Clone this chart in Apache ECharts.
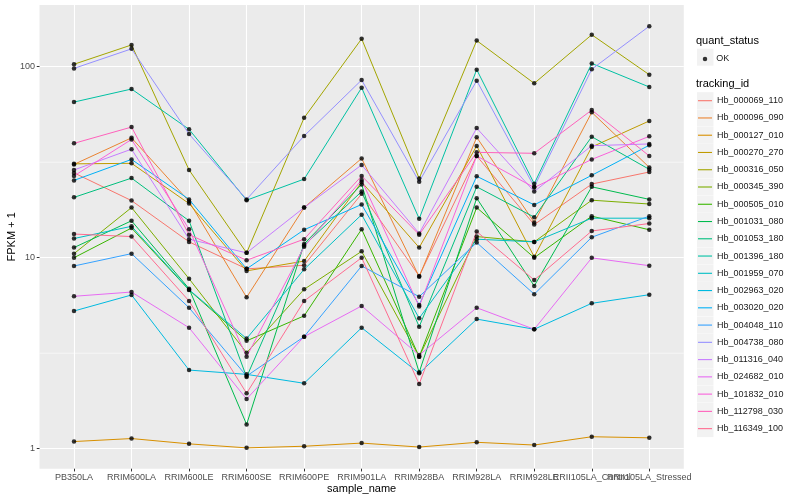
<!DOCTYPE html>
<html>
<head>
<meta charset="utf-8">
<script src="https://cdn.jsdelivr.net/npm/echarts@6/dist/echarts.min.js"></script>
<style>
html,body{margin:0;padding:0;background:#fff;}
#chart{width:800px;height:500px;}
</style>
</head>
<body>
<div id="chart"></div>
<script>
// ---- data ----
const categories = ['PB350LA','RRIM600LA','RRIM600LE','RRIM600SE','RRIM600PE','RRIM901LA','RRIM928BA','RRIM928LA','RRIM928LE','RRII105LA_Control','RRII105LA_Stressed'];
const trackingIds = ['Hb_000069_110','Hb_000096_090','Hb_000127_010','Hb_000270_270','Hb_000316_050','Hb_000345_390','Hb_000505_010','Hb_001031_080','Hb_001053_180','Hb_001396_180','Hb_001959_070','Hb_002963_020','Hb_003020_020','Hb_004048_110','Hb_004738_080','Hb_011316_040','Hb_024682_010','Hb_101832_010','Hb_112798_030','Hb_116349_100'];
const Hb_000069_110 = [27.8, 19.9, 12.1, 8.74, 9.13, 21.6, 8.02, 34.1, 14.9, 24.3, 28.1];
const Hb_000096_090 = [30.8, 42.4, 19.7, 6.20, 18.3, 33.1, 7.95, 42.7, 15.3, 57.7, 29.7];
const Hb_000127_010 = [1.09, 1.13, 1.06, 1.01, 1.03, 1.07, 1.02, 1.08, 1.045, 1.155, 1.14];
const Hb_000270_270 = [31.0, 31.2, 19.2, 8.53, 9.6, 24.9, 11.3, 38.5, 10.1, 38.0, 52.0];
const Hb_000316_050 = [103, 130, 28.8, 10.6, 54, 140, 26, 137, 81.8, 147, 90.8];
const Hb_000345_390 = [10.5, 18.3, 7.76, 3.18, 6.83, 10.8, 3.03, 12.9, 12.1, 20.0, 19.1];
const Hb_000505_010 = [10.0, 14.3, 6.77, 3.67, 4.96, 14.1, 3.03, 18.3, 10.0, 16.5, 14.0];
const Hb_001031_080 = [11.3, 15.6, 6.88, 1.34, 11.8, 24.2, 2.51, 20.5, 7.11, 23.5, 20.2];
const Hb_001053_180 = [20.7, 26.1, 15.6, 2.37, 11.6, 22.2, 4.35, 23.5, 16.3, 43.0, 29.0];
const Hb_001396_180 = [65.3, 76.4, 47.0, 20.0, 25.8, 77.6, 16.0, 96.5, 24.4, 104, 78.3];
const Hb_001959_070 = [12.6, 14.6, 6.8, 3.77, 8.69, 16.8, 4.82, 12.5, 12.1, 16.1, 16.1];
const Hb_002963_020 = [5.26, 6.38, 2.58, 2.45, 2.20, 4.30, 2.48, 4.77, 4.22, 5.77, 6.40];
const Hb_003020_020 = [25.4, 32.7, 20.2, 8.74, 14.0, 19.0, 5.65, 26.7, 18.9, 27.0, 38.8];
const Hb_004048_110 = [9.05, 10.5, 5.47, 2.40, 3.86, 9.05, 6.25, 12.0, 6.44, 12.8, 16.5];
const Hb_004738_080 = [98, 124, 44.4, 20.2, 43.4, 85.2, 25.0, 84.5, 23.5, 97, 163];
const Hb_011316_040 = [28.8, 37.0, 12.5, 10.6, 18.3, 30.6, 13.4, 47.7, 22.2, 38.6, 39.4];
const Hb_024682_010 = [6.28, 6.61, 4.30, 1.82, 3.86, 5.59, 3.09, 5.47, 4.22, 9.98, 9.08];
const Hb_101832_010 = [26.8, 41.6, 14.1, 3.03, 11.4, 25.5, 5.55, 34.1, 23.3, 32.7, 43.2];
const Hb_112798_030 = [39.7, 48.3, 13.2, 9.70, 12.5, 26.8, 13.2, 35.6, 35.2, 59.3, 34.1];
const Hb_116349_100 = [13.3, 12.9, 5.93, 1.95, 5.93, 10.0, 2.18, 13.7, 7.64, 13.8, 15.1];
const seriesValues = [Hb_000069_110,Hb_000096_090,Hb_000127_010,Hb_000270_270,Hb_000316_050,Hb_000345_390,Hb_000505_010,Hb_001031_080,Hb_001053_180,Hb_001396_180,Hb_001959_070,Hb_002963_020,Hb_003020_020,Hb_004048_110,Hb_004738_080,Hb_011316_040,Hb_024682_010,Hb_101832_010,Hb_112798_030,Hb_116349_100];
const yTickLabels = [1, 10, 100];
const yMinorBreaks = [Math.sqrt(10), Math.sqrt(1000)];
const quantStatus = 'OK';

// ---- style ----
const colors = ['#F8766D','#EA8331','#D89000','#C09B00','#A3A500','#7CAE00','#39B600','#00BB4E','#00BF7D','#00C1A3','#00BFC4','#00BAE0','#00B0F6','#35A2FF','#9590FF','#C77CFF','#E76BF3','#FA62DB','#FF62BC','#FF6C90'];
const FONT = 'Liberation Sans, Arial, sans-serif';
const G = {left: 39.5, top: 5, width: 644.3, height: 463.7};
const yMin = 0.7857, yMax = 210.4;
const catIdx = categories.map((c, i) => i + 1);
// labels of neighbouring categories overlap in the original; split them over two label rows drawn at the same place
const labelIdxA = catIdx.filter(i => i % 2 === 1);
const labelIdxB = catIdx.filter(i => i % 2 === 0);

const chart = echarts.init(document.getElementById('chart'), null, {renderer: 'canvas'});

const series = [];
trackingIds.forEach((id, k) => {
  series.push({
    name: id, type: 'line', xAxisIndex: 0, yAxisIndex: 0,
    data: seriesValues[k].map((v, i) => [i + 1, v]),
    showSymbol: false, symbol: 'none',
    lineStyle: {color: colors[k], width: 1},
    itemStyle: {color: colors[k]},
    emphasis: {disabled: true}, z: 2
  });
});
const pts = [];
seriesValues.forEach(arr => arr.forEach((v, i) => pts.push([i + 1, v])));
series.push({
  name: quantStatus, type: 'scatter', data: pts, symbolSize: 4.5,
  itemStyle: {color: '#000'}, emphasis: {disabled: true}, z: 3
});

const xLabelStyle = {color: '#4D4D4D', fontSize: 9, margin: 4.5, fontFamily: FONT,
  formatter: v => categories[Math.round(v) - 1], showMinLabel: true, showMaxLabel: true, hideOverlap: false};

const option = {
  animation: false,
  backgroundColor: '#fff',
  textStyle: {fontFamily: FONT},
  grid: Object.assign({show: true, backgroundColor: '#EBEBEB', borderWidth: 0, containLabel: false, outerBoundsMode: 'none'}, G),
  xAxis: [{
    type: 'value', min: 0.4, max: 11.6, position: 'bottom',
    axisLine: {show: false},
    axisTick: {show: true, length: 2.75, lineStyle: {color: '#333333', width: 1}, customValues: catIdx},
    axisLabel: Object.assign({customValues: labelIdxA}, xLabelStyle),
    splitLine: {show: true, lineStyle: {color: '#FFFFFF', width: 1.1}},
    name: 'sample_name', nameLocation: 'middle', nameGap: 14.8, nameMoveOverlap: false,
    nameTextStyle: {color: '#000', fontSize: 11, fontFamily: FONT, verticalAlign: 'top'}
  }, {
    type: 'value', min: 0.4, max: 11.6, position: 'bottom', offset: 0,
    axisLine: {show: false},
    axisTick: {show: false},
    axisLabel: Object.assign({customValues: labelIdxB}, xLabelStyle),
    splitLine: {show: false}
  }],
  yAxis: [{
    type: 'log', logBase: 10, min: yMin, max: yMax,
    axisLine: {show: false},
    axisTick: {show: true, length: 2.75, lineStyle: {color: '#333333', width: 1}, customValues: yTickLabels},
    axisLabel: {customValues: yTickLabels, color: '#4D4D4D', fontSize: 9, margin: 4.5, fontFamily: FONT, formatter: v => String(Math.round(v))},
    splitLine: {show: true, lineStyle: {color: '#FFFFFF', width: 1.1}},
    name: 'FPKM + 1', nameLocation: 'middle', nameGap: 22, nameMoveOverlap: false,
    nameTextStyle: {color: '#000', fontSize: 11, fontFamily: FONT}
  }],
  legend: [{
    data: [quantStatus], orient: 'vertical', left: 702.75, top: 54.45,
    itemWidth: 4.5, itemHeight: 4.5, icon: 'circle', padding: 0,
    selectedMode: false,
    textStyle: {fontSize: 9, color: '#1A1A1A', fontFamily: FONT, padding: [0, 0, 0, 4]}
  }, {
    data: trackingIds, orient: 'vertical', left: 698, top: 100.7 - 8.5,
    itemWidth: 14, itemHeight: 1.1, icon: 'rect', itemGap: 0.26, padding: 0,
    selectedMode: false,
    itemStyle: {borderWidth: 0},
    textStyle: {fontSize: 9, color: '#1A1A1A', fontFamily: FONT, lineHeight: 17, height: 17}
  }],
  series: series
};
chart.setOption(option);

// decorations: minor grid lines (positioned through the library's own y scale) and legend key backgrounds
const graphics = [];
yMinorBreaks.forEach(v => {
  const py = chart.convertToPixel({yAxisIndex: 0}, v);
  graphics.push({type: 'line', shape: {x1: G.left, y1: py, x2: G.left + G.width, y2: py},
    style: {stroke: '#FFFFFF', lineWidth: 0.6}, z: 1, silent: true});
});
const itemStep = 17.26, firstY = 100.7;
graphics.push({type: 'rect', shape: {x: 697, y: 48.7, width: 16.5, height: 17}, style: {fill: '#F2F2F2'}, z: 0});
trackingIds.forEach((id, k) => {
  graphics.push({type: 'rect', shape: {x: 697, y: firstY + k * itemStep - 8.5, width: 16.5, height: 17}, style: {fill: '#F2F2F2'}, z: 0});
});
graphics.push({type: 'text', x: 696, y: 40.7, style: {text: 'quant_status', font: '11px ' + FONT, fill: '#000', textVerticalAlign: 'middle'}, z: 5});
graphics.push({type: 'text', x: 696, y: 84, style: {text: 'tracking_id', font: '11px ' + FONT, fill: '#000', textVerticalAlign: 'middle'}, z: 5});
chart.setOption({graphic: graphics});
</script>
</body>
</html>
